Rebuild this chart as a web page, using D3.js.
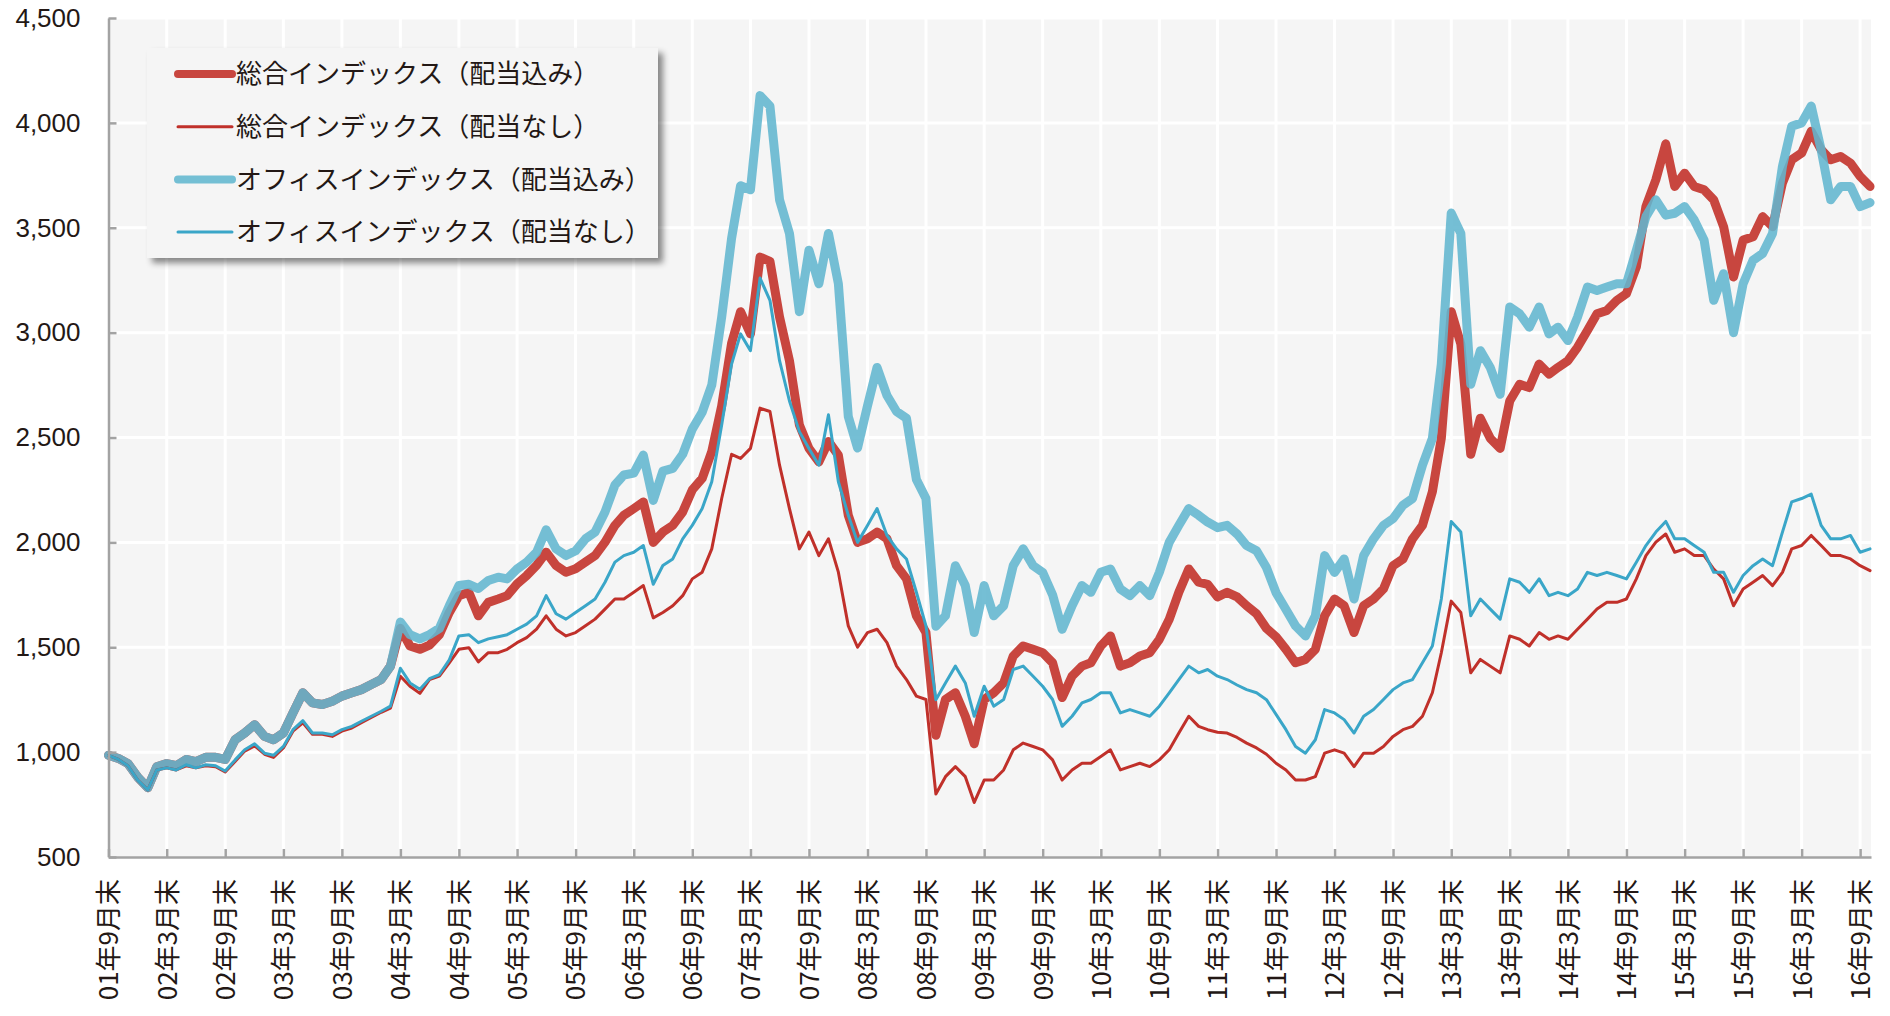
<!DOCTYPE html>
<html>
<head>
<meta charset="utf-8">
<script src="https://cdn.jsdelivr.net/npm/d3@7"></script>
<style>
    body { margin: 0; background: #ffffff; }
    text { font-family: "Noto Sans CJK JP", sans-serif; fill: #231815; }
</style>
</head>
<body>
<svg id="chart" width="1890" height="1016"></svg>
<script>
// monthly closes, index 0 = end of Sep 2001
var totalDiv = [
    985, 970, 945, 880, 830, 930, 945, 935, 965, 955,
    975, 975, 965, 1059, 1091, 1131, 1075, 1059, 1091, 1187,
    1283, 1235, 1227, 1243, 1267, 1283, 1298, 1322, 1346, 1410,
    1590, 1506, 1490, 1510, 1560, 1666, 1746, 1762, 1650, 1714,
    1730, 1746, 1802, 1842, 1890, 1953, 1890, 1858, 1874, 1906,
    1937, 2001, 2081, 2129, 2161, 2193, 2000, 2049, 2081, 2145,
    2250, 2305, 2433, 2650, 2950, 3100, 2994, 3360, 3340, 3074,
    2866, 2560, 2448, 2384, 2481, 2416, 2129, 2000, 2017, 2049,
    2017, 1889, 1826, 1650, 1570, 1080, 1251, 1283, 1171, 1040,
    1251, 1283, 1330, 1458, 1506, 1490, 1474, 1426, 1260, 1362,
    1410, 1426, 1506, 1554, 1410, 1426, 1458, 1474, 1538, 1634,
    1762, 1873, 1810, 1800, 1740, 1762, 1740, 1698, 1660, 1590,
    1550, 1490, 1426, 1442, 1490, 1650, 1730, 1698, 1570, 1698,
    1730, 1778, 1889, 1921, 2017, 2081, 2241, 2496, 3100, 2946,
    2420, 2592, 2496, 2448, 2674, 2754, 2738, 2850, 2802, 2834,
    2866, 2930, 3010, 3090, 3106, 3154, 3186, 3313, 3601, 3729,
    3900, 3697, 3760, 3697, 3681, 3633, 3505, 3265, 3441, 3457,
    3553, 3505, 3713, 3824, 3856, 3960, 3872, 3824, 3840, 3808,
    3745, 3697
];
var totalNoDiv = [
    985, 965, 935, 865, 820, 915, 925, 915, 935, 925,
    935, 930, 905, 955, 1005, 1030, 990, 975, 1020, 1100,
    1140, 1085, 1085, 1075, 1100, 1115, 1140, 1165, 1190, 1210,
    1362, 1314, 1280, 1346, 1362, 1426, 1490, 1498, 1430, 1474,
    1474, 1490, 1522, 1546, 1586, 1650, 1586, 1554, 1570, 1602,
    1634, 1682, 1730, 1730, 1762, 1794, 1640, 1666, 1698, 1746,
    1826, 1858, 1969, 2209, 2420, 2400, 2448, 2640, 2624, 2368,
    2161, 1969, 2049, 1937, 2017, 1858, 1602, 1500, 1570, 1586,
    1522, 1410, 1346, 1267, 1251, 800, 883, 931, 883, 760,
    867, 867, 915, 1011, 1043, 1027, 1011, 963, 867, 915,
    947, 947, 979, 1011, 915, 931, 947, 931, 963, 1011,
    1091, 1171, 1123, 1107, 1095, 1091, 1070, 1043, 1020, 990,
    947, 915, 867, 867, 883, 995, 1011, 995, 931, 995,
    995, 1027, 1075, 1107, 1123, 1171, 1283, 1474, 1720, 1666,
    1378, 1442, 1410, 1378, 1554, 1538, 1506, 1570, 1538, 1554,
    1538, 1586, 1634, 1682, 1714, 1714, 1730, 1826, 1937, 2001,
    2040, 1953, 1969, 1937, 1937, 1873, 1826, 1698, 1778, 1810,
    1842, 1794, 1857, 1969, 1985, 2033, 1985, 1937, 1937, 1921,
    1889, 1865
];
var officeDiv = [
    985, 970, 945, 880, 830, 930, 945, 935, 965, 955,
    975, 975, 965, 1059, 1091, 1131, 1075, 1059, 1091, 1187,
    1283, 1235, 1227, 1243, 1267, 1283, 1298, 1322, 1346, 1410,
    1620, 1560, 1540, 1560, 1590, 1698, 1794, 1800, 1780, 1818,
    1834, 1826, 1873, 1906, 1953, 2060, 1969, 1937, 1960, 2017,
    2049, 2145, 2273, 2321, 2330, 2416, 2200, 2340, 2353, 2420,
    2540, 2620, 2750, 3074, 3450, 3700, 3681, 4130, 4080, 3633,
    3473, 3100, 3393, 3233, 3473, 3233, 2600, 2450, 2650, 2834,
    2700, 2624, 2592, 2300, 2209, 1600, 1650, 1889, 1794, 1570,
    1794, 1650, 1698, 1889, 1969, 1889, 1857, 1750, 1586, 1698,
    1794, 1762, 1857, 1873, 1778, 1746, 1794, 1746, 1857, 2001,
    2081, 2161, 2129, 2097, 2070, 2081, 2040, 1985, 1960, 1880,
    1760, 1680, 1602, 1554, 1650, 1937, 1857, 1921, 1730, 1937,
    2017, 2081, 2113, 2177, 2209, 2368, 2496, 2850, 3570, 3473,
    2754, 2914, 2834, 2706, 3122, 3090, 3026, 3122, 2994, 3026,
    2962, 3074, 3217, 3201, 3217, 3233, 3233, 3393, 3553, 3633,
    3560, 3569, 3601, 3537, 3441, 3154, 3281, 3000, 3233, 3345,
    3377, 3473, 3792, 3984, 4000, 4080, 3872, 3633, 3697, 3697,
    3601, 3620
];
var officeNoDiv = [
    985, 965, 935, 865, 820, 915, 925, 915, 940, 925,
    940, 935, 910, 963, 1011, 1040, 995, 985, 1027, 1107,
    1150, 1091, 1091, 1083, 1107, 1123, 1147, 1171, 1195, 1219,
    1400, 1330, 1300, 1350, 1370, 1440, 1554, 1560, 1522, 1540,
    1550, 1560, 1586, 1610, 1650, 1746, 1660, 1634, 1666, 1698,
    1730, 1810, 1906, 1937, 1953, 1985, 1800, 1890, 1921, 2017,
    2081, 2161, 2289, 2560, 2850, 2994, 2914, 3260, 3154, 2866,
    2674, 2528, 2448, 2368, 2608, 2289, 2129, 2000, 2081, 2161,
    2033, 1969, 1921, 1762, 1602, 1250, 1330, 1410, 1330, 1171,
    1314, 1219, 1251, 1394, 1410, 1362, 1314, 1251, 1123, 1171,
    1235, 1251, 1283, 1283, 1187, 1203, 1187, 1171, 1219, 1283,
    1346, 1410, 1378, 1394, 1362, 1346, 1320, 1298, 1283, 1250,
    1180, 1107, 1027, 995, 1059, 1203, 1187, 1155, 1091, 1171,
    1203, 1251, 1298, 1330, 1346, 1426, 1506, 1730, 2100, 2049,
    1650, 1730, 1682, 1634, 1826, 1810, 1762, 1826, 1746, 1762,
    1746, 1778, 1857, 1842, 1857, 1842, 1826, 1905, 1985, 2049,
    2100, 2017, 2017, 1985, 1953, 1857, 1857, 1762, 1842, 1889,
    1921, 1889, 2049, 2193, 2209, 2230, 2081, 2017, 2017, 2033,
    1953, 1969
];

var seriesNames = [
    "総合インデックス（配当込み）",
    "総合インデックス（配当なし）",
    "オフィスインデックス（配当込み）",
    "オフィスインデックス（配当なし）"
];
var yTicks = [500, 1000, 1500, 2000, 2500, 3000, 3500, 4000, 4500];
var tickLabels = [
    "01年9月末", "02年3月末", "02年9月末", "03年3月末", "03年9月末", "04年3月末",
    "04年9月末", "05年3月末", "05年9月末", "06年3月末", "06年9月末", "07年3月末",
    "07年9月末", "08年3月末", "08年9月末", "09年3月末", "09年9月末", "10年3月末",
    "10年9月末", "11年3月末", "11年9月末", "12年3月末", "12年9月末", "13年3月末",
    "13年9月末", "14年3月末", "14年9月末", "15年3月末", "15年9月末", "16年3月末",
    "16年9月末"
];

var svg = d3.select("#chart");

var x = d3.scaleTime()
    .domain([new Date(2001, 8, 30), new Date(2016, 10, 3)])
    .range([108.5, 1871]);
var y = d3.scaleLinear()
    .domain([500, 4500])
    .range([857, 18]);

// month-end date for index i
function monthEnd(i) {
    return new Date(2001, 9 + i, 0);
}
var tickDates = tickLabels.map(function (d, i) { return monthEnd(i * 6); });

// plot background
svg.append("rect")
    .attr("x", x.range()[0])
    .attr("y", y(4500))
    .attr("width", x.range()[1] - x.range()[0])
    .attr("height", y(500) - y(4500))
    .attr("fill", "#f5f5f5");

var grid = svg.append("g").attr("class", "grid");
grid.selectAll("line.h")
    .data(yTicks.slice(1))
    .enter().append("line")
    .attr("class", "h")
    .attr("x1", x.range()[0]).attr("x2", x.range()[1])
    .attr("y1", function (d) { return y(d); })
    .attr("y2", function (d) { return y(d); })
    .attr("stroke", "#ffffff").attr("stroke-width", 3);
grid.selectAll("line.v")
    .data(tickDates.slice(1))
    .enter().append("line")
    .attr("class", "v")
    .attr("x1", function (d) { return x(d); })
    .attr("x2", function (d) { return x(d); })
    .attr("y1", y(4500)).attr("y2", y(500))
    .attr("stroke", "#ffffff").attr("stroke-width", 3);

// lines
var line = function (values) {
    return d3.line()
        .x(function (d, i) { return x(monthEnd(i)); })
        .y(function (d) { return y(d); })(values);
};

var series = [
    {values: totalDiv, color: "#c8463f", width: 9, opacity: 1},
    {values: officeDiv, color: "#62b6cf", width: 9, opacity: 0.88},
    {values: totalNoDiv, color: "#c0302a", width: 3, opacity: 1},
    {values: officeNoDiv, color: "#3aa6c8", width: 3, opacity: 1}
];

svg.append("g").selectAll("path")
    .data(series)
    .enter().append("path")
    .attr("d", function (d) { return line(d.values); })
    .attr("fill", "none")
    .attr("stroke", function (d) { return d.color; })
    .attr("stroke-width", function (d) { return d.width; })
    .attr("stroke-opacity", function (d) { return d.opacity; })
    .attr("stroke-linejoin", "round")
    .attr("stroke-linecap", "round");

// axes
var yAxis = svg.append("g")
    .attr("transform", "translate(" + x.range()[0] + ",0)")
    .call(d3.axisLeft(y)
        .tickValues(yTicks)
        .tickSize(-8)
        .tickSizeOuter(0)
        .tickPadding(28)
        .tickFormat(d3.format(",")));
yAxis.selectAll("text")
    .style("font-family", "'Liberation Sans', Arial, sans-serif")
    .style("font-size", "26px");

var xAxis = svg.append("g")
    .attr("transform", "translate(0," + y(500) + ")")
    .call(d3.axisBottom(x)
        .tickValues(tickDates)
        .tickSize(-8)
        .tickSizeOuter(0)
        .tickFormat(function (d, i) { return tickLabels[i]; }));
xAxis.selectAll("text")
    .attr("transform", "rotate(-90)")
    .attr("text-anchor", "end")
    .attr("x", -22)
    .attr("y", 0)
    .attr("dy", "0.36em")
    .style("font-size", "26px");

svg.selectAll(".domain, .tick line")
    .attr("stroke", "#a3a3a3")
    .attr("stroke-width", 2.5);

// legend
var defs = svg.append("defs");
var shadow = defs.append("filter").attr("id", "shadow")
    .attr("x", "-10%").attr("y", "-10%").attr("width", "130%").attr("height", "130%");
shadow.append("feDropShadow")
    .attr("dx", 5).attr("dy", 5).attr("stdDeviation", 3)
    .attr("flood-color", "#000000").attr("flood-opacity", 0.45);

var legend = svg.append("g").attr("transform", "translate(147,48)");
legend.append("rect")
    .attr("width", 511).attr("height", 210)
    .attr("fill", "#f5f5f5")
    .attr("filter", "url(#shadow)");

var legendStyles = [
    {color: "#c8463f", width: 8},
    {color: "#c0302a", width: 3},
    {color: "#74bfd4", width: 8},
    {color: "#3aa6c8", width: 3}
];
var item = legend.selectAll("g.item")
    .data(seriesNames)
    .enter().append("g")
    .attr("class", "item")
    .attr("transform", function (d, i) { return "translate(0," + (26 + i * 52.7) + ")"; });
item.append("line")
    .attr("x1", 31).attr("x2", 85)
    .attr("stroke", function (d, i) { return legendStyles[i].color; })
    .attr("stroke-width", function (d, i) { return legendStyles[i].width; })
    .attr("stroke-linecap", "round");
item.append("text")
    .attr("x", 89)
    .attr("dy", "0.36em")
    .style("font-size", "26px")
    .text(function (d) { return d; });
</script>
</body>
</html>
